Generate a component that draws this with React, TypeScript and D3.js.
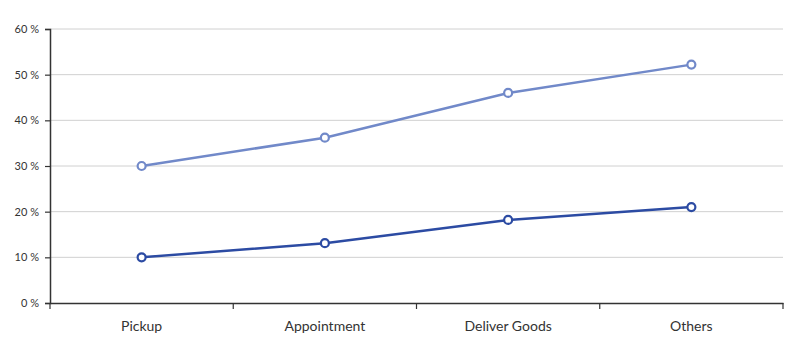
import { useEffect, useRef } from 'react'
import * as d3 from 'd3'

const categories = ['Pickup', 'Appointment', 'Deliver Goods', 'Others']
const upperSeries = [30, 36.2, 46, 52.2]
const lowerSeries = [10, 13.1, 18.2, 21]
const yTicks = [0, 10, 20, 30, 40, 50, 60]

export default function App() {
  const svgRef = useRef<SVGSVGElement>(null)

  useEffect(() => {
    if (!svgRef.current) return
    const svg = d3.select(svgRef.current)
    svg.selectAll('*').remove()

    const width = 800
    const height = 353
    const margin = { top: 29, right: 17, bottom: 50, left: 50 }

    const x = d3.scaleBand<string>()
      .domain(categories)
      .range([margin.left, width - margin.right])
    const y = d3.scaleLinear()
      .domain([0, 60])
      .range([height - margin.bottom, margin.top])

    const font = "Lato, 'Open Sans', sans-serif"

    // gridlines
    svg.append('g')
      .selectAll('line')
      .data(yTicks.slice(1))
      .enter()
      .append('line')
      .attr('x1', margin.left)
      .attr('x2', width - margin.right)
      .attr('y1', d => y(d))
      .attr('y2', d => y(d))
      .attr('stroke', '#d0d0d0')
      .attr('stroke-width', 1)

    // y axis
    const yAxis = svg.append('g')
      .attr('transform', `translate(${margin.left},0)`)
      .call(d3.axisLeft(y).tickValues(yTicks).tickSize(5).tickPadding(6).tickFormat(d => `${d} %`))
    yAxis.select('.domain').attr('stroke', '#333').attr('stroke-width', 1.5)
    yAxis.selectAll('.tick line').attr('stroke', '#333').attr('stroke-width', 1.2)
    yAxis.selectAll('.tick text')
      .attr('fill', '#333')
      .attr('font-size', 11)
      .attr('font-family', font)

    // x axis
    const xAxis = svg.append('g')
      .attr('transform', `translate(0,${height - margin.bottom})`)
      .call(d3.axisBottom(x).tickSize(0).tickPadding(18))
    xAxis.select('.domain').attr('stroke', '#333').attr('stroke-width', 1.5)
    xAxis.selectAll('.tick text')
      .attr('fill', '#333')
      .attr('font-size', 14)
      .attr('font-family', font)

    // x boundary ticks
    const bounds = categories.map(c => x(c) as number).concat([width - margin.right])
    svg.append('g')
      .selectAll('line')
      .data(bounds)
      .enter()
      .append('line')
      .attr('x1', d => d)
      .attr('x2', d => d)
      .attr('y1', height - margin.bottom)
      .attr('y2', height - margin.bottom + 6)
      .attr('stroke', '#333')
      .attr('stroke-width', 1.2)

    const cx = (c: string) => (x(c) as number) + x.bandwidth() / 2

    const drawSeries = (values: number[], color: string) => {
      const pts = values.map((v, i) => [cx(categories[i]), y(v)] as [number, number])
      svg.append('path')
        .attr('d', d3.line()(pts) as string)
        .attr('fill', 'none')
        .attr('stroke', color)
        .attr('stroke-width', 2.5)
      svg.append('g')
        .selectAll('circle')
        .data(pts)
        .enter()
        .append('circle')
        .attr('cx', d => d[0])
        .attr('cy', d => d[1])
        .attr('r', 4)
        .attr('fill', '#fff')
        .attr('stroke', color)
        .attr('stroke-width', 2.2)
    }

    drawSeries(upperSeries, '#7189c9')
    drawSeries(lowerSeries, '#2c4ba3')
  }, [])

  return (
    <svg
      ref={svgRef}
      width={800}
      height={353}
      style={{ display: 'block', position: 'absolute', left: 0, top: 0 }}
    />
  )
}
